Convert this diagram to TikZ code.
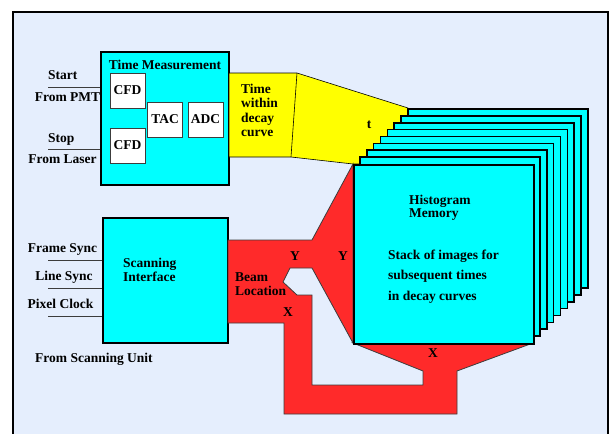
\documentclass[tikz,border=0pt]{standalone}
\usepackage{fontspec}
\setmainfont{Liberation Serif}
\usepackage{tikz}
\usetikzlibrary{positioning, calc}
\definecolor{panelblue}{RGB}{229,238,253}
\definecolor{boxcyan}{RGB}{0,255,255}
\definecolor{pathyellow}{RGB}{255,255,0}
\definecolor{pathred}{RGB}{255,42,42}
\definecolor{edgegray}{RGB}{60,60,60}

\tikzset{
  lbl/.style={font=\fontsize{13.5}{14}\selectfont\bfseries, inner sep=0pt},
  mainbox/.style={draw=black, line width=1.6pt, fill=boxcyan, inner sep=0pt},
  subbox/.style={lbl, draw=edgegray, line width=0.8pt, fill=white,
                 minimum width=35pt, minimum height=35pt},
  layer/.style={draw=black, line width=1.6pt, fill=boxcyan, inner sep=0pt},
  inwire/.style={line width=1pt, draw=edgegray}
}

\begin{document}
\begin{tikzpicture}[x=1pt, y=-1pt]
  \clip (0,0) rectangle (611,434);
  \fill[white] (0,0) rectangle (611,434);
  \draw[line width=1.6pt, fill=panelblue] (13,12) rectangle (608,450);

  % time measurement part
  \node[mainbox, minimum width=128pt, minimum height=133pt] (tm) at (165,118.5) {};
  \node[lbl] (tmtitle) at (165,65) {Time Measurement};
  \node[subbox] (cfdstart) at (127.5,90.5) {CFD};
  \node[subbox] (cfdstop) at (127.5,145.5) {CFD};
  \node[subbox] (tac) at (165,119.5) {TAC};
  \node[subbox] (adc) at (205.5,119.5) {ADC};

  \coordinate (startin) at (48,87);
  \coordinate (stopin) at (48,149);
  \draw[inwire] (startin) -- (startin -| tm.west);
  \draw[inwire] (stopin) -- (stopin -| tm.west);
  \node[lbl, anchor=west] (startlbl) at (48,75) {Start};
  \node[lbl] (pmtlbl) at (67.5,97) {From PMT};
  \node[lbl, anchor=west] (stoplbl) at (48,139) {Stop};
  \node[lbl] (laserlbl) at (62.5,159) {From Laser};

  % yellow time path
  \draw[fill=pathyellow, line width=0.6pt] (229,73) -- (297,73) -- (408,108) -- (408,164)
    -- (353,164) -- (291,157) -- (229,157) -- cycle;
  \draw[line width=0.6pt] (297,73) -- (291,157);
  \node[lbl, anchor=west, align=left, font=\fontsize{13.5}{14.3}\selectfont\bfseries]
    (timelbl) at (241,110.5) {Time\\within\\decay\\curve};
  \node[lbl] (tlbl) at (369,125) {t};

  % scanning part
  \node[mainbox, minimum width=125pt, minimum height=125pt] (scan) at (165.5,280.5) {};
  \node[lbl, anchor=west, align=left] (scanlbl) at (123,270) {Scanning\\Interface};
  \coordinate (framein) at (48,260);
  \coordinate (linein) at (48,288);
  \coordinate (pixelin) at (48,316);
  \draw[inwire] (framein) -- (framein -| scan.west);
  \draw[inwire] (linein) -- (linein -| scan.west);
  \draw[inwire] (pixelin) -- (pixelin -| scan.west);
  \node[lbl] (framelbl) at (62.5,249) {Frame Sync};
  \node[lbl] (linelbl) at (64,277) {Line Sync};
  \node[lbl] (pixellbl) at (60.5,304) {Pixel Clock};
  \node[lbl, anchor=west] (unitlbl) at (35,359) {From Scanning Unit};

  % red beam location path
  \draw[fill=pathred, draw=edgegray, line width=0.8pt]
    (228,240) -- (312,240) -- (353,164) -- (353,343) -- (312,268) -- (290,268)
    -- (283,282) -- (297,295) -- (312,295) -- (312,385) -- (423,385) -- (423,371)
    -- (353,343) -- (533,343) -- (457,371) -- (457,414) -- (284,414) -- (284,323)
    -- (228,323) -- cycle;
  \node[lbl, anchor=west, align=left] (beamlbl) at (235,284) {Beam\\Location};
  \node[lbl] (yleft) at (295,256) {Y};
  \node[lbl] (yright) at (343,256) {Y};
  \node[lbl] (xleft) at (288,312) {X};
  \node[lbl] (xbottom) at (433,353) {X};

  % stack of images
  \foreach \k in {8,...,1}
    \draw[layer] ({353+6.875*\k},{164-6.875*\k}) rectangle +(180,179);
  \node[layer, minimum width=180pt, minimum height=179pt, anchor=north west] (hm) at (353,164) {};
  \node[lbl, anchor=west, align=left, font=\fontsize{13.5}{13}\selectfont\bfseries]
    (hmlbl) at (409,207.5) {Histogram\\Memory};
  \node[lbl, anchor=west, align=left, font=\fontsize{13.5}{20.5}\selectfont\bfseries]
    (stacklbl) at (388,276.5) {Stack of images for\\subsequent times\\in decay curves};
\end{tikzpicture}
\end{document}
